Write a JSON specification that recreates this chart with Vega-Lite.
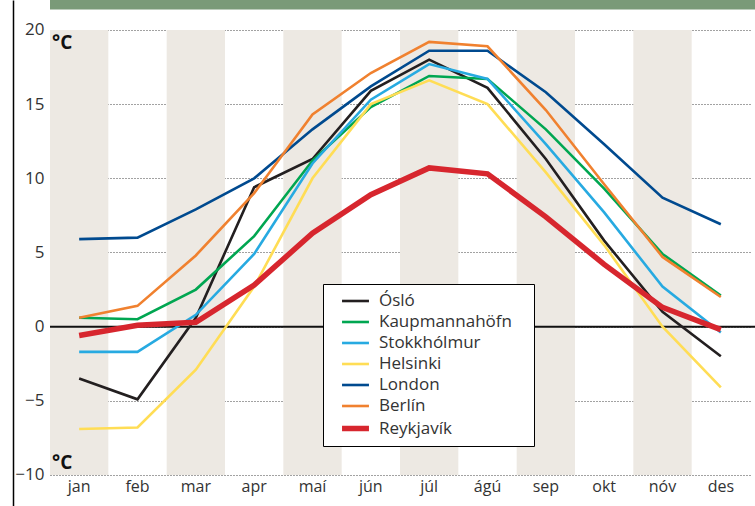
{
  "$schema": "https://vega.github.io/schema/vega-lite/v6.json",
  "autosize": {"type": "none"},
  "padding": {"left": 50, "top": 0, "right": 0, "bottom": 0},
  "width": 705,
  "height": 506,
  "background": "white",
  "config": {
    "view": {"stroke": null},
    "font": "Open Sans",
    "legend": {"strokeColor": "#000", "fillColor": "white"}
  },
  "datasets": {
    "bands": [
      {"month": "jan"}, {"month": "mar"}, {"month": "maí"},
      {"month": "júl"}, {"month": "sep"}, {"month": "nóv"}
    ],
    "temps": [
      {"city": "Ósló", "month": "jan", "temp": -3.5},
      {"city": "Ósló", "month": "feb", "temp": -4.9},
      {"city": "Ósló", "month": "mar", "temp": 0.6},
      {"city": "Ósló", "month": "apr", "temp": 9.4},
      {"city": "Ósló", "month": "maí", "temp": 11.3},
      {"city": "Ósló", "month": "jún", "temp": 15.9},
      {"city": "Ósló", "month": "júl", "temp": 18.0},
      {"city": "Ósló", "month": "ágú", "temp": 16.1},
      {"city": "Ósló", "month": "sep", "temp": 11.3},
      {"city": "Ósló", "month": "okt", "temp": 5.8},
      {"city": "Ósló", "month": "nóv", "temp": 1.0},
      {"city": "Ósló", "month": "des", "temp": -2.0},
      {"city": "Kaupmannahöfn", "month": "jan", "temp": 0.6},
      {"city": "Kaupmannahöfn", "month": "feb", "temp": 0.5},
      {"city": "Kaupmannahöfn", "month": "mar", "temp": 2.5},
      {"city": "Kaupmannahöfn", "month": "apr", "temp": 6.1},
      {"city": "Kaupmannahöfn", "month": "maí", "temp": 11.2},
      {"city": "Kaupmannahöfn", "month": "jún", "temp": 14.8},
      {"city": "Kaupmannahöfn", "month": "júl", "temp": 16.9},
      {"city": "Kaupmannahöfn", "month": "ágú", "temp": 16.7},
      {"city": "Kaupmannahöfn", "month": "sep", "temp": 13.3},
      {"city": "Kaupmannahöfn", "month": "okt", "temp": 9.3},
      {"city": "Kaupmannahöfn", "month": "nóv", "temp": 4.9},
      {"city": "Kaupmannahöfn", "month": "des", "temp": 2.1},
      {"city": "Stokkhólmur", "month": "jan", "temp": -1.7},
      {"city": "Stokkhólmur", "month": "feb", "temp": -1.7},
      {"city": "Stokkhólmur", "month": "mar", "temp": 0.8},
      {"city": "Stokkhólmur", "month": "apr", "temp": 4.9},
      {"city": "Stokkhólmur", "month": "maí", "temp": 11.0},
      {"city": "Stokkhólmur", "month": "jún", "temp": 15.3},
      {"city": "Stokkhólmur", "month": "júl", "temp": 17.7},
      {"city": "Stokkhólmur", "month": "ágú", "temp": 16.7},
      {"city": "Stokkhólmur", "month": "sep", "temp": 12.3},
      {"city": "Stokkhólmur", "month": "okt", "temp": 7.7},
      {"city": "Stokkhólmur", "month": "nóv", "temp": 2.7},
      {"city": "Stokkhólmur", "month": "des", "temp": -0.4},
      {"city": "Helsinki", "month": "jan", "temp": -6.9},
      {"city": "Helsinki", "month": "feb", "temp": -6.8},
      {"city": "Helsinki", "month": "mar", "temp": -2.9},
      {"city": "Helsinki", "month": "apr", "temp": 2.7},
      {"city": "Helsinki", "month": "maí", "temp": 10.0},
      {"city": "Helsinki", "month": "jún", "temp": 15.0},
      {"city": "Helsinki", "month": "júl", "temp": 16.6},
      {"city": "Helsinki", "month": "ágú", "temp": 15.0},
      {"city": "Helsinki", "month": "sep", "temp": 10.4},
      {"city": "Helsinki", "month": "okt", "temp": 5.5},
      {"city": "Helsinki", "month": "nóv", "temp": 0.0},
      {"city": "Helsinki", "month": "des", "temp": -4.1},
      {"city": "London", "month": "jan", "temp": 5.9},
      {"city": "London", "month": "feb", "temp": 6.0},
      {"city": "London", "month": "mar", "temp": 7.9},
      {"city": "London", "month": "apr", "temp": 10.0},
      {"city": "London", "month": "maí", "temp": 13.3},
      {"city": "London", "month": "jún", "temp": 16.2},
      {"city": "London", "month": "júl", "temp": 18.6},
      {"city": "London", "month": "ágú", "temp": 18.6},
      {"city": "London", "month": "sep", "temp": 15.8},
      {"city": "London", "month": "okt", "temp": 12.3},
      {"city": "London", "month": "nóv", "temp": 8.7},
      {"city": "London", "month": "des", "temp": 6.9},
      {"city": "Berlín", "month": "jan", "temp": 0.6},
      {"city": "Berlín", "month": "feb", "temp": 1.4},
      {"city": "Berlín", "month": "mar", "temp": 4.8},
      {"city": "Berlín", "month": "apr", "temp": 9.0},
      {"city": "Berlín", "month": "maí", "temp": 14.3},
      {"city": "Berlín", "month": "jún", "temp": 17.1},
      {"city": "Berlín", "month": "júl", "temp": 19.2},
      {"city": "Berlín", "month": "ágú", "temp": 18.9},
      {"city": "Berlín", "month": "sep", "temp": 14.6},
      {"city": "Berlín", "month": "okt", "temp": 9.6},
      {"city": "Berlín", "month": "nóv", "temp": 4.7},
      {"city": "Berlín", "month": "des", "temp": 2.0},
      {"city": "Reykjavík", "month": "jan", "temp": -0.6},
      {"city": "Reykjavík", "month": "feb", "temp": 0.1},
      {"city": "Reykjavík", "month": "mar", "temp": 0.3},
      {"city": "Reykjavík", "month": "apr", "temp": 2.8},
      {"city": "Reykjavík", "month": "maí", "temp": 6.3},
      {"city": "Reykjavík", "month": "jún", "temp": 8.9},
      {"city": "Reykjavík", "month": "júl", "temp": 10.7},
      {"city": "Reykjavík", "month": "ágú", "temp": 10.3},
      {"city": "Reykjavík", "month": "sep", "temp": 7.4},
      {"city": "Reykjavík", "month": "okt", "temp": 4.2},
      {"city": "Reykjavík", "month": "nóv", "temp": 1.3},
      {"city": "Reykjavík", "month": "des", "temp": -0.2}
    ]
  },
  "layer": [
    {
      "data": {"name": "bands"},
      "mark": {"type": "rect", "color": "#ede9e3"},
      "encoding": {
        "x": {"field": "month", "type": "nominal"},
        "y": {"datum": -10, "type": "quantitative"},
        "y2": {"datum": 20}
      }
    },
    {
      "data": {"values": [{"label": "banner"}]},
      "mark": {"type": "rect", "color": "#7a9a78"},
      "encoding": {
        "y": {"datum": 21.38, "type": "quantitative"},
        "y2": {"datum": 22.02}
      }
    },
    {
      "data": {"values": [{"label": "zero"}]},
      "mark": {"type": "rule", "color": "#111", "strokeWidth": 2},
      "encoding": {"y": {"datum": 0, "type": "quantitative"}}
    },
    {
      "data": {"name": "temps"},
      "mark": {"type": "line", "strokeJoin": "miter", "strokeCap": "butt"},
      "encoding": {
        "x": {
          "field": "month", "type": "nominal", "sort": null,
          "scale": {
            "domain": ["jan","feb","mar","apr","maí","jún","júl","ágú","sep","okt","nóv","des"],
            "range": [0, 700], "paddingInner": 0, "paddingOuter": 0
          },
          "axis": {
            "title": null, "domain": false, "ticks": false, "grid": false,
            "labelAngle": 0, "labelAlign": "center", "labelPadding": -20, "labelFontSize": 16,
            "labelColor": "#333", "labelFont": "Open Sans"
          }
        },
        "y": {
          "field": "temp", "type": "quantitative",
          "scale": {"domain": [-12.09, 22.02], "nice": false, "zero": false},
          "axis": {
            "title": null, "values": [-10, -5, 0, 5, 10, 15, 20],
            "offset": 37, "domain": true, "domainColor": "#000", "domainWidth": 1.5,
            "ticks": false, "tickSize": 0, "labelPadding": -31,
            "labelFontSize": 17, "labelColor": "#333", "labelFont": "Open Sans",
            "grid": true, "gridColor": "#444", "gridDash": [1, 2], "gridWidth": 1
          }
        },
        "color": {
          "field": "city", "type": "nominal",
          "scale": {
            "domain": ["Ósló","Kaupmannahöfn","Stokkhólmur","Helsinki","London","Berlín","Reykjavík"],
            "range": ["#231f20","#00a651","#27aae1","#ffdd55","#004a8f","#f0812f","#d7262e"]
          },
          "legend": {
            "title": "\u00a0", "titleOrient": "right", "titlePadding": 16,
            "orient": "none", "legendX": 273, "legendY": 284,
            "direction": "vertical",
            "padding": 6, "symbolType": "M-1.4,0H1.4", "symbolSize": 370, "symbolOffset": 14,
            "labelFontSize": 17, "labelColor": "#333", "labelFont": "Open Sans",
            "labelOffset": 11, "rowPadding": 2
          }
        },
        "strokeWidth": {
          "field": "city", "type": "nominal",
          "scale": {
            "type": "ordinal",
            "domain": ["Ósló","Kaupmannahöfn","Stokkhólmur","Helsinki","London","Berlín","Reykjavík"],
            "range": [2.6, 2.6, 2.6, 2.6, 2.6, 2.6, 5.5]
          },
          "legend": {
            "title": "\u00a0", "titleOrient": "right", "titlePadding": 16,
            "orient": "none", "legendX": 273, "legendY": 284,
            "direction": "vertical",
            "padding": 6, "symbolType": "M-1.4,0H1.4", "symbolSize": 370, "symbolOffset": 14,
            "labelFontSize": 17, "labelColor": "#333", "labelFont": "Open Sans",
            "labelOffset": 11, "rowPadding": 2
          }
        }
      }
    },
    {
      "data": {"values": [{"label": "°C", "pos": "top"}]},
      "mark": {"type": "text", "align": "left", "baseline": "top", "dx": 2, "dy": 4, "fontSize": 19, "fontWeight": "bold", "font": "Open Sans", "color": "#111"},
      "encoding": {
        "x": {"datum": "jan", "bandPosition": 0},
        "y": {"datum": 20, "type": "quantitative"},
        "text": {"field": "label"}
      }
    },
    {
      "data": {"values": [{"label": "°C", "pos": "bottom"}]},
      "mark": {"type": "text", "align": "left", "baseline": "bottom", "dx": 2, "dy": -2, "fontSize": 19, "fontWeight": "bold", "font": "Open Sans", "color": "#111"},
      "encoding": {
        "x": {"datum": "jan", "bandPosition": 0},
        "y": {"datum": -10, "type": "quantitative"},
        "text": {"field": "label"}
      }
    }
  ]
}
